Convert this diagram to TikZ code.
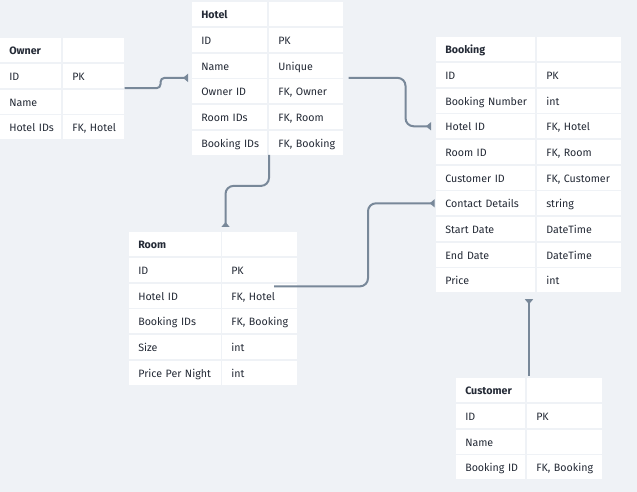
\documentclass[tikz,border=0pt]{standalone}
\usepackage{fontspec}
\setmainfont{Fira Sans}
\usetikzlibrary{arrows.meta,calc}
\definecolor{canvas}{RGB}{239,242,246}
\definecolor{wire}{RGB}{120,136,153}
\definecolor{ink}{RGB}{36,42,54}
\begin{document}
\begin{tikzpicture}
        [x=0.75pt, y=-0.75pt,
        cell/.style={fill=white, anchor=north west, minimum height=18pt, inner xsep=6.75pt, inner ysep=0pt, text height=1.6ex, text depth=0.3ex, align=left, text=ink, font=\fontsize{8}{9.6}\selectfont},
        link/.style={draw=wire, line width=1.5pt, rounded corners=6pt, -{Triangle[reversed, width=6pt, length=3.75pt]}}]
        \fill[canvas] (0,0) rectangle (637,492);
        % Owner
        \foreach \fld/\typ [count=\i from 0] in {\textbf{Owner}/{}, ID/PK, Name/{}, Hotel IDs/{FK, Hotel}}{
            \node[cell, text width=32.25pt] (owner-l\i) at (0,38+\i*25.67) {\mbox{\fld}};
            \node[cell, text width=32.25pt] (owner-r\i) at (63,38+\i*25.67) {\mbox{\typ}};
        }
        % Hotel
        \foreach \fld/\typ [count=\i from 0] in {\textbf{Hotel}/{}, ID/PK, Name/Unique, Owner ID/{FK, Owner}, Room IDs/{FK, Room}, Booking IDs/{FK, Booking}}{
            \node[cell, text width=42.75pt] (hotel-l\i) at (192,2+\i*25.67) {\mbox{\fld}};
            \node[cell, text width=42pt] (hotel-r\i) at (269,2+\i*25.67) {\mbox{\typ}};
        }
        % Booking
        \foreach \fld/\typ [count=\i from 0] in {\textbf{Booking}/{}, ID/PK, Booking Number/int, Hotel ID/{FK, Hotel}, Room ID/{FK, Room}, Customer ID/{FK, Customer}, Contact Details/string, Start Date/DateTime, End Date/DateTime, Price/int}{
            \node[cell, text width=60.75pt] (booking-l\i) at (436,37+\i*25.67) {\mbox{\fld}};
            \node[cell, text width=49.5pt] (booking-r\i) at (537,37+\i*25.67) {\mbox{\typ}};
        }
        % Room
        \foreach \fld/\typ [count=\i from 0] in {\textbf{Room}/{}, ID/PK, Hotel ID/{FK, Hotel}, Booking IDs/{FK, Booking}, Size/int, Price Per Night/int}{
            \node[cell, text width=55.5pt] (room-l\i) at (129,232+\i*25.67) {\mbox{\fld}};
            \node[cell, text width=42.75pt] (room-r\i) at (222,232+\i*25.67) {\mbox{\typ}};
        }
        % Customer
        \foreach \fld/\typ [count=\i from 0] in {\textbf{Customer}/{}, ID/PK, Name/{}, Booking ID/{FK, Booking}}{
            \node[cell, text width=38.25pt] (customer-l\i) at (456,378+\i*25.67) {\mbox{\fld}};
            \node[cell, text width=42.75pt] (customer-r\i) at (527,378+\i*25.67) {\mbox{\typ}};
        }

        \draw[link, rounded corners=3pt, shorten >=3pt] (owner-r1.south east) -- ++(36,0) |- (hotel-l2.south west);
        \draw[link, shorten <=3.75pt, shorten >=3.75pt] (hotel-r2.south east) -- ++(62,0) |- (booking-l3.west);
        \draw[link, shorten >=3.75pt] (hotel-r5.south west) -- ++(0,31) -| ($(room-l0.north east)+(4,0)$);
        \draw[link, shorten >=1pt] ($(room-r2.north west)+(52,3)$) -- ++(94,0) |- (booking-l6.west);
        \coordinate (custTop) at ($(customer-r0.north west)+(2,-2)$);
        \draw[link, shorten >=5pt] (custTop) -- (custTop |- booking-r9.south);
    \end{tikzpicture}
\end{document}
